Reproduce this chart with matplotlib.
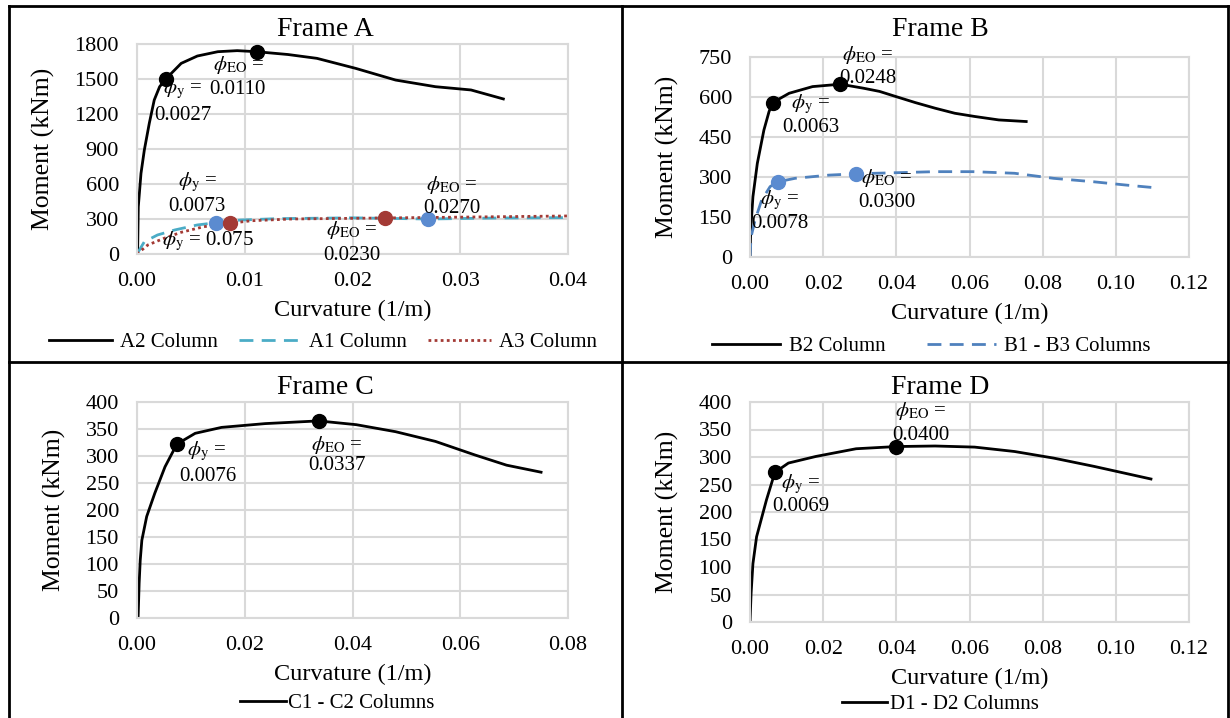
import numpy as np
import matplotlib
matplotlib.use("Agg")
import matplotlib.pyplot as plt
from matplotlib.lines import Line2D

plt.rcParams['font.family'] = ['Liberation Serif', 'DejaVu Serif']
plt.rcParams['mathtext.fontset'] = 'stix'

# ---- data ----
# Frame A
a2_x = [0, 0.00006, 0.00012, 0.00037, 0.00068, 0.00114, 0.0016, 0.0021, 0.0027, 0.0041, 0.0056, 0.0075,
        0.0093, 0.0111, 0.0140, 0.0167, 0.0203, 0.024, 0.0277, 0.031, 0.034]
a2_y = [0, 34, 405, 691, 891, 1120, 1320, 1434, 1503, 1634, 1697, 1734,
        1743, 1734, 1710, 1677, 1591, 1491, 1434, 1406, 1329]
a1_x = [0, 0.00068, 0.0019, 0.0035, 0.0056, 0.0073, 0.0096, 0.013, 0.020, 0.027, 0.033, 0.040]
a1_y = [0, 105, 163, 206, 249, 268, 291, 303, 310, 300, 308, 312]
a3_x = [0, 0.001, 0.0025, 0.0041, 0.0062, 0.0086, 0.0106, 0.0143, 0.023, 0.030, 0.040]
a3_y = [0, 77, 134, 186, 234, 263, 285, 300, 309, 316, 326]
a2_pts = ([0.0027, 0.0111], [1503, 1730])
a1_pts = ([0.0073, 0.027], [268, 300])
a3_pts = ([0.0086, 0.023], [263, 309])

# Frame B
b2_x = [0, 0.0002, 0.0008, 0.002, 0.0038, 0.0052, 0.0062, 0.0107, 0.0171, 0.0247, 0.031, 0.0354,
        0.0398, 0.0452, 0.0506, 0.056, 0.0614, 0.068, 0.0755]
b2_y = [0, 101, 226, 351, 476, 545, 579, 614, 639, 648, 633, 621,
        602, 579, 558, 539, 527, 514, 508]
b13_x = [0, 0.0003, 0.0014, 0.0032, 0.0055, 0.0076, 0.0123, 0.0215, 0.0289, 0.0506, 0.061, 0.0723,
         0.083, 0.094, 0.1026, 0.1097]
b13_y = [0, 76, 139, 214, 264, 282, 295, 307, 312, 320, 320, 314,
         295, 282, 270, 261]
b2_pts = ([0.0062, 0.0247], [579, 648])
b13_pts = ([0.0076, 0.0289], [282, 312])

# Frame C
c_x = [0, 0.0002, 0.0004, 0.0006, 0.0009, 0.0018, 0.0033, 0.0052, 0.0074, 0.0108, 0.0157, 0.0238,
       0.0337, 0.0407, 0.048, 0.0554, 0.0627, 0.0686, 0.075]
c_y = [0, 0, 65, 107, 144, 188, 231, 280, 322, 342, 353, 360,
       365, 358, 345, 327, 302, 283, 270]
c_pts = ([0.0074, 0.0337], [322, 365])

# Frame D
d_x = [0, 0.0003, 0.0008, 0.0018, 0.0045, 0.0068, 0.0105, 0.018, 0.029, 0.040, 0.0506, 0.0614,
       0.0723, 0.083, 0.094, 0.1096]
d_y = [0, 52, 106, 155, 222, 272, 289, 301, 315, 319, 320, 318,
       310, 298, 283, 260]
d_pts = ([0.0068, 0.040], [272, 319])

W, H = 1230, 718
fig = plt.figure(figsize=(12.3, 7.18), dpi=100)


def box(l, r, t, b):
    return [l / W, 1 - b / H, (r - l) / W, (b - t) / H]


GRID = '#D9D9D9'
TICK = 16
LAB = 17.5
ANN = 15
TITLE = 20
LEG = 15
PHY = r'$\phi_{\mathrm{y}}$ ='
PHE = r'$\phi_{\mathrm{EO}}$ ='


def style(ax, xmax, xstep, ymax, ystep):
    ax.set_xlim(0, xmax)
    ax.set_ylim(0, ymax)
    ax.set_xticks(np.arange(0, xmax + xstep / 2, xstep))
    ax.set_yticks(np.arange(0, ymax + ystep / 2, ystep))
    ax.xaxis.set_major_formatter(matplotlib.ticker.FormatStrFormatter('%.2f'))
    ax.grid(True, color=GRID, lw=1.5)
    ax.set_axisbelow(True)
    for s in ax.spines.values():
        s.set_color(GRID)
        s.set_linewidth(1.5)
    ax.tick_params(length=0, pad=13, labelsize=TICK)
    ax.set_xlabel('Curvature (1/m)', fontsize=LAB, labelpad=6)
    ax.set_ylabel('Moment (kNm)', fontsize=LAB + 1, labelpad=14)


def note(ax, x, y, s):
    ax.text(x, y, s, fontsize=ANN, ha='center', va='center', zorder=5)


# ---- Frame A ----
axA = fig.add_axes(box(137, 568, 44, 254))
style(axA, 0.04, 0.01, 1800, 300)
lA2, = axA.plot(a2_x, a2_y, color='black', lw=2, label='A2 Column')
lA1, = axA.plot(a1_x, a1_y, color='#4BACC6', lw=2, ls=(0, (5, 3)), label='A1 Column')
lA3, = axA.plot(a3_x, a3_y, color='#A33A35', lw=2, ls=(0, (1, 1.2)), label='A3 Column')
axA.plot(*a2_pts, 'o', color='black', ms=10, zorder=4)
axA.plot(*a1_pts, 'o', color='#5B8BD0', ms=10, zorder=4)
axA.plot(*a3_pts, 'o', color='#A33A35', ms=10, zorder=4)
note(axA, 0.0094, 1620, PHE)
note(axA, 0.0042, 1411, PHY)
note(axA, 0.0093, 1411, '0.0110')
note(axA, 0.0043, 1191, '0.0027')
note(axA, 0.0056, 611, PHY)
note(axA, 0.0056, 406, '0.0073')
note(axA, 0.0066, 106, PHY + ' 0.075')
note(axA, 0.0199, 206, PHE)
note(axA, 0.0199, -9, '0.0230')
note(axA, 0.0292, 591, PHE)
note(axA, 0.0292, 391, '0.0270')
fig.text(325 / W, 1 - 29 / H, 'Frame A', fontsize=TITLE, ha='center', va='center')
fig.legend(handles=[lA2, lA1, lA3], loc='center', bbox_to_anchor=(323 / W, 1 - 342 / H),
           ncol=3, frameon=False, fontsize=LEG, handlelength=3.0, columnspacing=1.0,
           handletextpad=0.4, borderaxespad=0)

# ---- Frame B ----
axB = fig.add_axes(box(750, 1189, 57, 257))
style(axB, 0.12, 0.02, 750, 150)
lB2, = axB.plot(b2_x, b2_y, color='black', lw=2, label='B2 Column')
lB13, = axB.plot(b13_x, b13_y, color='#4F81BD', lw=2, ls=(0, (5, 3)), label='B1 - B3 Columns')
axB.plot(*b2_pts, 'o', color='black', ms=10, zorder=4)
axB.plot(*b13_pts, 'o', color='#5B8BD0', ms=10, zorder=4)
note(axB, 0.0322, 759, PHE)
note(axB, 0.0322, 671, '0.0248')
note(axB, 0.0167, 574, PHY)
note(axB, 0.0167, 485, '0.0063')
note(axB, 0.0081, 213, PHY)
note(axB, 0.0083, 125, '0.0078')
note(axB, 0.0373, 295, PHE)
note(axB, 0.0373, 204, '0.0300')
fig.text(940 / W, 1 - 29 / H, 'Frame B', fontsize=TITLE, ha='center', va='center')
fig.legend(handles=[lB2, lB13], loc='center', bbox_to_anchor=(931 / W, 1 - 346 / H),
           ncol=2, frameon=False, fontsize=LEG, handlelength=3.3, columnspacing=2.0,
           handletextpad=0.4, borderaxespad=0)

# ---- Frame C ----
axC = fig.add_axes(box(137, 568, 402, 618))
style(axC, 0.08, 0.02, 400, 50)
lC, = axC.plot(c_x, c_y, color='black', lw=2, label='C1 - C2 Columns')
axC.plot(*c_pts, 'o', color='black', ms=10, zorder=4)
note(axC, 0.0129, 308, PHY)
note(axC, 0.0131, 262, '0.0076')
note(axC, 0.037, 321, PHE)
note(axC, 0.0371, 282, '0.0337')
fig.text(325 / W, 1 - 388 / H, 'Frame C', fontsize=TITLE, ha='center', va='center')
fig.legend(handles=[lC], loc='center', bbox_to_anchor=(337 / W, 1 - 703 / H),
           frameon=False, fontsize=LEG, handlelength=2.2, handletextpad=0.1, borderaxespad=0)

# ---- Frame D ----
axD = fig.add_axes(box(750, 1189, 402, 622))
style(axD, 0.12, 0.02, 400, 50)
lD, = axD.plot(d_x, d_y, color='black', lw=2, label='D1 - D2 Columns')
axD.plot(*d_pts, 'o', color='black', ms=10, zorder=4)
note(axD, 0.0468, 383, PHE)
note(axD, 0.0468, 340, '0.0400')
note(axD, 0.0138, 250, PHY)
note(axD, 0.0138, 210, '0.0069')
fig.text(940 / W, 1 - 388 / H, 'Frame D', fontsize=TITLE, ha='center', va='center')
fig.legend(handles=[lD], loc='center', bbox_to_anchor=(940 / W, 1 - 704 / H),
           frameon=False, fontsize=LEG, handlelength=2.2, handletextpad=0.1, borderaxespad=0)

# ---- table borders ----
for xs, ys in [([9, 9], [6, 718]), ([1228, 1228], [6, 718]), ([9, 1228], [6, 6]),
               ([622, 622], [6, 718]), ([9, 1228], [362, 362])]:
    fig.add_artist(Line2D([x / W for x in xs], [1 - y / H for y in ys],
                          color='black', lw=2, transform=fig.transFigure))

fig.savefig('out.png', dpi=100)
